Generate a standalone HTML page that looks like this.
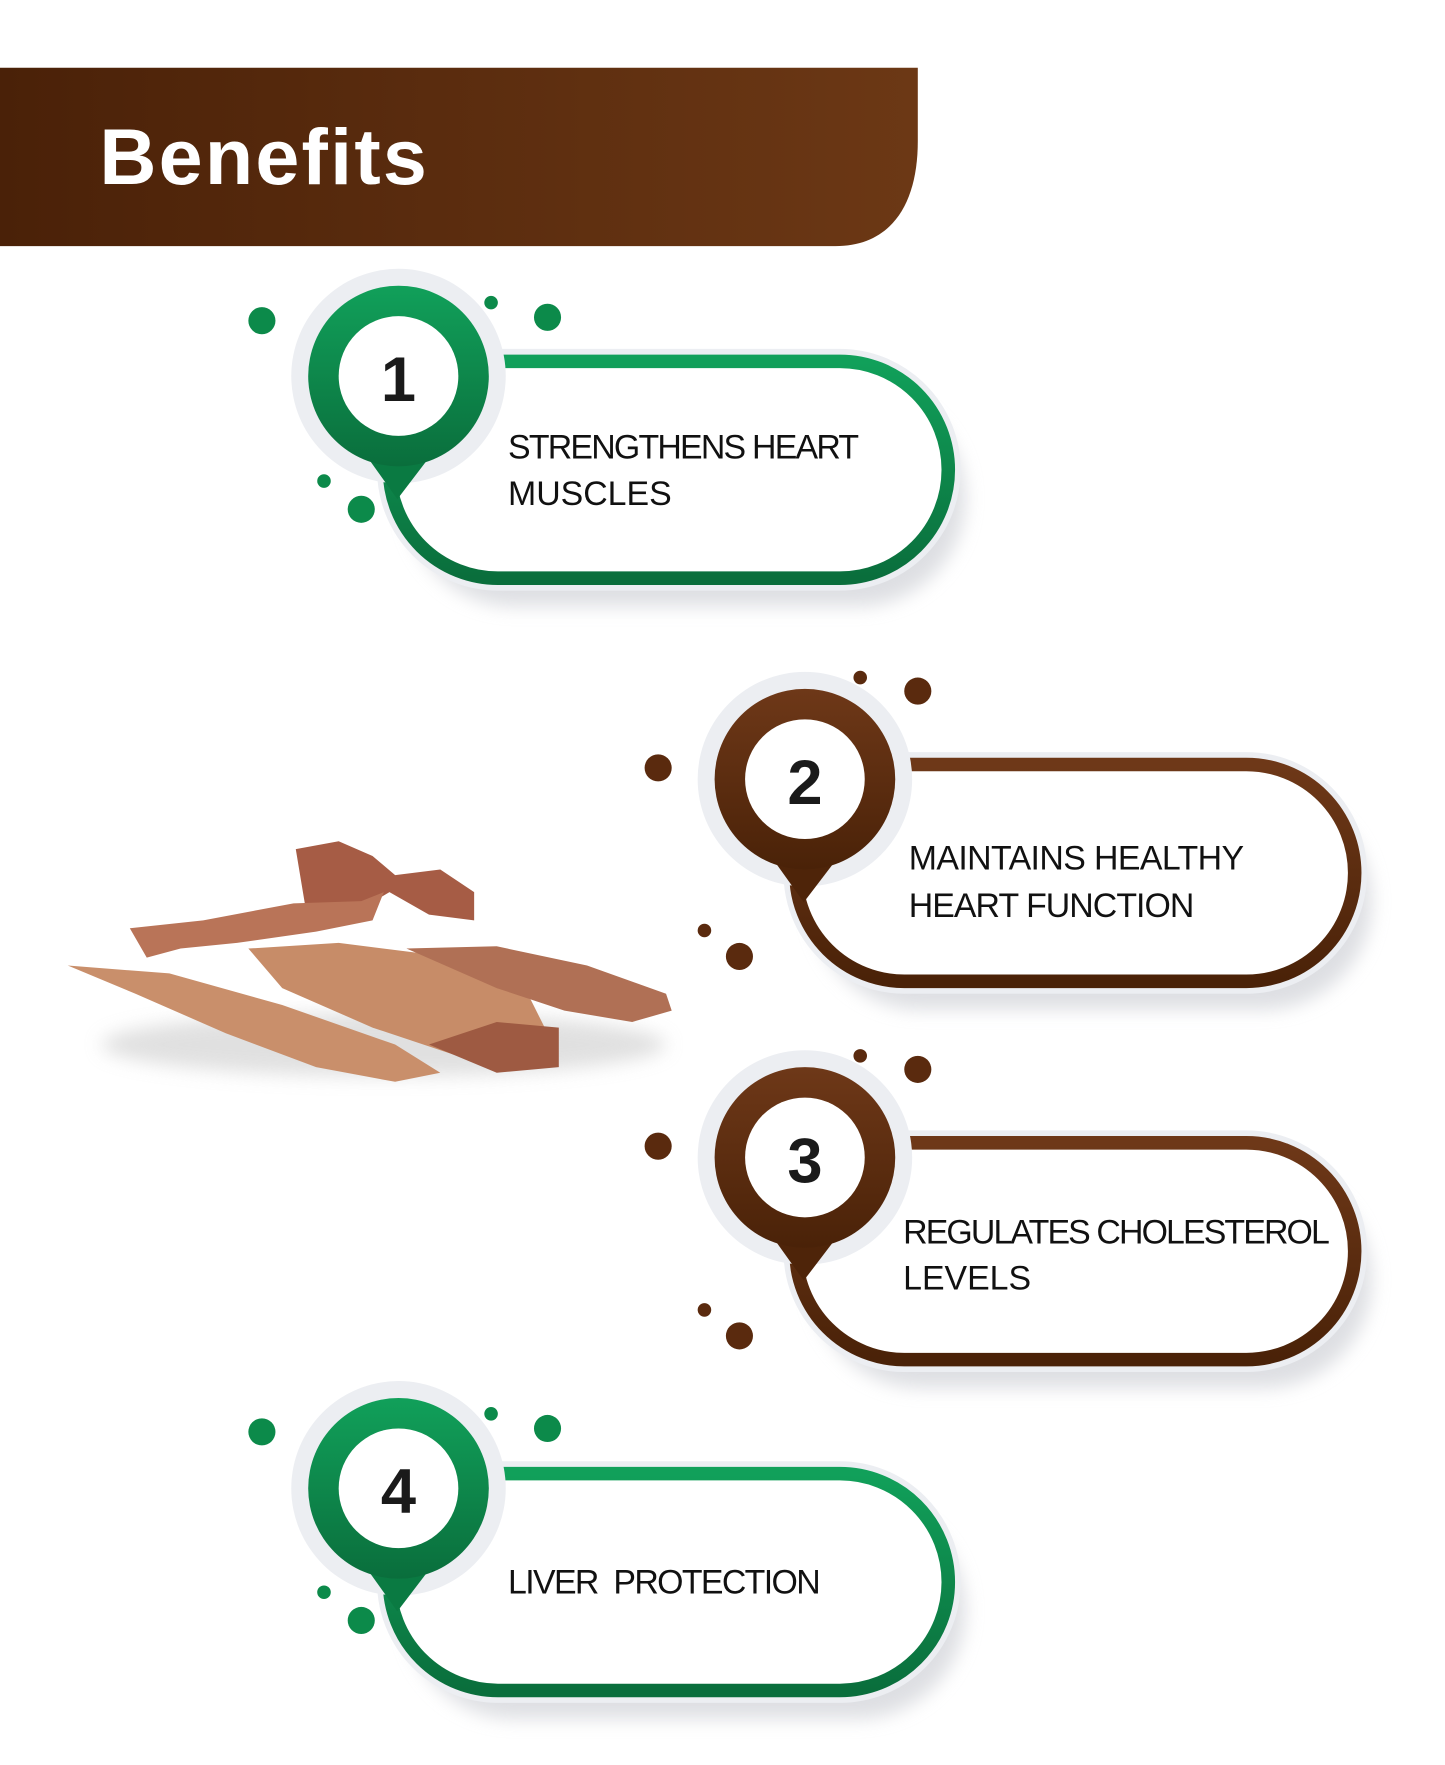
<!DOCTYPE html>
<html><head><meta charset="utf-8"><style>
html,body{margin:0;padding:0;background:#fff;width:1445px;height:1765px;overflow:hidden}
svg{display:block}
</style></head><body>
<svg width="1445" height="1765" viewBox="0 0 1280 1563" preserveAspectRatio="none" xmlns="http://www.w3.org/2000/svg">
<defs>
<linearGradient id="bn" x1="0" x2="1"><stop offset="0" stop-color="#4a2108"/><stop offset="1" stop-color="#6c3815"/></linearGradient>
<linearGradient id="gr" x1="0" y1="0" x2="0" y2="1"><stop offset="0" stop-color="#11a05a"/><stop offset="1" stop-color="#0a6e3c"/></linearGradient>
<linearGradient id="br" x1="0" y1="0" x2="0" y2="1"><stop offset="0" stop-color="#6e3818"/><stop offset="1" stop-color="#4a2208"/></linearGradient>
<filter id="sh" x="-20%" y="-20%" width="150%" height="160%"><feGaussianBlur stdDeviation="8"/></filter>
</defs>
<path d="M0 60 H813 V125 C813 180 790 218 740 218 H0 Z" fill="url(#bn)"/>
<text x="88" y="163" font-family="Liberation Sans, sans-serif" font-weight="bold" font-size="70" fill="#fff" letter-spacing="2">Benefits</text>

<g>
<rect x="360" y="345" width="495" height="192" rx="96" fill="#d5d7dc" filter="url(#sh)" opacity="0.8"/>
<rect x="345" y="320" width="495" height="192" rx="96" fill="#fff" stroke="#eceef2" stroke-width="22"/>
<rect x="345" y="320" width="495" height="192" rx="96" fill="#fff" stroke="url(#gr)" stroke-width="12"/>
<circle cx="353" cy="333" r="95" fill="#eceef2"/>
<path d="M322 400 L384 400 L352 442 Z" fill="#0a7a42"/>
<circle cx="353" cy="333" r="80" fill="url(#gr)"/>
<circle cx="353" cy="333" r="53" fill="#fff"/>
<text x="353" y="355" text-anchor="middle" font-family="Liberation Sans, sans-serif" font-weight="bold" font-size="56" fill="#1a1a1a">1</text>
<text x="450" y="406" font-family="Liberation Sans, sans-serif" font-size="30" fill="#111" textLength="311">STRENGTHENS HEART</text>
<text x="450" y="447" font-family="Liberation Sans, sans-serif" font-size="30" fill="#111">MUSCLES</text>
<g fill="#0c8a4a"><circle cx="232" cy="284" r="12"/><circle cx="435" cy="268" r="6"/><circle cx="485" cy="281" r="12"/><circle cx="287" cy="426" r="6"/><circle cx="320" cy="451" r="12"/></g>
</g>

<g>
<rect x="720" y="702" width="495" height="192" rx="96" fill="#d5d7dc" filter="url(#sh)" opacity="0.8"/>
<rect x="705" y="677" width="495" height="192" rx="96" fill="#fff" stroke="#eceef2" stroke-width="22"/>
<rect x="705" y="677" width="495" height="192" rx="96" fill="#fff" stroke="url(#br)" stroke-width="12"/>
<circle cx="713" cy="690" r="95" fill="#eceef2"/>
<path d="M682 757 L744 757 L712 799 Z" fill="#4e2409"/>
<circle cx="713" cy="690" r="80" fill="url(#br)"/>
<circle cx="713" cy="690" r="53" fill="#fff"/>
<text x="713" y="712" text-anchor="middle" font-family="Liberation Sans, sans-serif" font-weight="bold" font-size="56" fill="#1a1a1a">2</text>
<text x="805" y="770" font-family="Liberation Sans, sans-serif" font-size="30" fill="#111" textLength="297">MAINTAINS HEALTHY</text>
<text x="805" y="812" font-family="Liberation Sans, sans-serif" font-size="30" fill="#111" textLength="253">HEART FUNCTION</text>
<g fill="#5a2a0e"><circle cx="762" cy="600" r="6"/><circle cx="813" cy="612" r="12"/><circle cx="583" cy="680" r="12"/><circle cx="624" cy="824" r="6"/><circle cx="655" cy="847" r="12"/></g>
</g>

<g>
<rect x="720" y="1037" width="495" height="192" rx="96" fill="#d5d7dc" filter="url(#sh)" opacity="0.8"/>
<rect x="705" y="1012" width="495" height="192" rx="96" fill="#fff" stroke="#eceef2" stroke-width="22"/>
<rect x="705" y="1012" width="495" height="192" rx="96" fill="#fff" stroke="url(#br)" stroke-width="12"/>
<circle cx="713" cy="1025" r="95" fill="#eceef2"/>
<path d="M682 1092 L744 1092 L712 1134 Z" fill="#4e2409"/>
<circle cx="713" cy="1025" r="80" fill="url(#br)"/>
<circle cx="713" cy="1025" r="53" fill="#fff"/>
<text x="713" y="1047" text-anchor="middle" font-family="Liberation Sans, sans-serif" font-weight="bold" font-size="56" fill="#1a1a1a">3</text>
<text x="800" y="1101" font-family="Liberation Sans, sans-serif" font-size="30" fill="#111" textLength="378">REGULATES CHOLESTEROL</text>
<text x="800" y="1142" font-family="Liberation Sans, sans-serif" font-size="30" fill="#111">LEVELS</text>
<g fill="#5a2a0e"><circle cx="762" cy="935" r="6"/><circle cx="813" cy="947" r="12"/><circle cx="583" cy="1015" r="12"/><circle cx="624" cy="1160" r="6"/><circle cx="655" cy="1183" r="12"/></g>
</g>

<g>
<rect x="360" y="1330" width="495" height="192" rx="96" fill="#d5d7dc" filter="url(#sh)" opacity="0.8"/>
<rect x="345" y="1305" width="495" height="192" rx="96" fill="#fff" stroke="#eceef2" stroke-width="22"/>
<rect x="345" y="1305" width="495" height="192" rx="96" fill="#fff" stroke="url(#gr)" stroke-width="12"/>
<circle cx="353" cy="1318" r="95" fill="#eceef2"/>
<path d="M322 1385 L384 1385 L352 1427 Z" fill="#0a7a42"/>
<circle cx="353" cy="1318" r="80" fill="url(#gr)"/>
<circle cx="353" cy="1318" r="53" fill="#fff"/>
<text x="353" y="1340" text-anchor="middle" font-family="Liberation Sans, sans-serif" font-weight="bold" font-size="56" fill="#1a1a1a">4</text>
<text x="450" y="1411" font-family="Liberation Sans, sans-serif" font-size="30" fill="#111" xml:space="preserve" textLength="277">LIVER  PROTECTION</text>
<g fill="#0c8a4a"><circle cx="232" cy="1268" r="12"/><circle cx="435" cy="1252" r="6"/><circle cx="485" cy="1265" r="12"/><circle cx="287" cy="1410" r="6"/><circle cx="320" cy="1435" r="12"/></g>
</g>

<g>
<ellipse cx="340" cy="925" rx="250" ry="28" fill="#ccc" filter="url(#sh)" opacity="0.6"/>
<path d="M262 752 L300 745 L330 758 L350 775 L390 770 L420 790 L420 815 L380 810 L345 790 L320 805 L270 800 Z" fill="#a65c45"/>
<path d="M115 822 L180 815 L260 800 L320 798 L340 790 L330 815 L280 825 L210 835 L160 840 L130 848 Z" fill="#b97458"/>
<path d="M60 855 L150 862 L250 890 L350 925 L390 950 L350 958 L280 945 L200 915 L120 880 Z" fill="#c98f6b"/>
<path d="M220 840 L300 835 L380 845 L470 885 L490 925 L480 945 L420 940 L330 910 L250 875 Z" fill="#c78c68"/>
<path d="M360 840 L440 838 L520 855 L590 880 L595 895 L560 905 L500 895 L440 875 Z" fill="#b07055"/>
<path d="M380 925 L440 905 L495 910 L495 945 L440 950 Z" fill="#9e5a42"/>
</g>
</svg>
</body></html>
